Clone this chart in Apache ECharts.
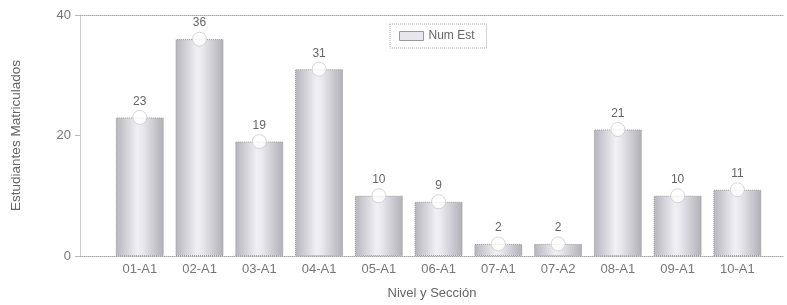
<!DOCTYPE html>
<html>
<head>
<meta charset="utf-8">
<script src="https://cdn.jsdelivr.net/npm/echarts@6/dist/echarts.min.js"></script>
<style>
  html, body { margin: 0; padding: 0; background: #fff; }
  #chart { width: 787px; height: 305px; }
</style>
</head>
<body>
<div id="chart"></div>
<script>
// Estudiantes por sección
var categories = ['01-A1', '02-A1', '03-A1', '04-A1', '05-A1', '06-A1', '07-A1', '07-A2', '08-A1', '09-A1', '10-A1'];
var numEst = [23, 36, 19, 31, 10, 9, 2, 2, 21, 10, 11];
var yTicks = [0, 20, 40];

function show_chart(chart_id){
  var chartDom = document.getElementById(chart_id);
  var myChart = echarts.init(chartDom);
  var option;

  var points = numEst.map(function (v, i) { return [i, v]; });

  var barColor = new echarts.graphic.LinearGradient(0, 0, 1, 0, [
    { offset: 0, color: '#b6b5bd' },
    { offset: 0.45, color: '#f1f0f5' },
    { offset: 0.55, color: '#eae9ef' },
    { offset: 1, color: '#b1b0b7' }
  ]);

  option = {
    animation: false,
    textStyle: { fontFamily: 'Liberation Sans, Arial, sans-serif' },
    legend: {
      data: [{
        name: 'Num Est',
        icon: 'rect',
        itemStyle: { color: '#e6e6ec', borderColor: '#999', borderWidth: 1 }
      }],
      left: 390,
      top: 24,
      itemWidth: 24,
      itemHeight: 9,
      itemGap: 6,
      padding: [6, 12, 6, 9],
      borderColor: '#aaa',
      borderWidth: 1,
      borderType: 'dotted',
      textStyle: { color: '#666', fontSize: 12 }
    },
    grid: {
      left: 80,
      right: 0,
      top: 15,
      bottom: 49
    },
    xAxis: [
      {
        type: 'value',
        min: -1,
        max: 10.78,
        interval: 1,
        name: 'Nivel y Sección',
        nameLocation: 'middle',
        nameGap: 31,
        nameTextStyle: { color: '#666', fontSize: 13 },
        axisLine: { onZero: false, lineStyle: { color: '#aaa', type: 'dotted' } },
        axisTick: { show: false },
        splitLine: { show: false },
        axisLabel: {
          color: '#777',
          fontSize: 13,
          margin: 7,
          formatter: function (v) { return categories[v] || ''; }
        }
      },
      {
        // borde superior del área
        type: 'value',
        position: 'top',
        min: -1,
        max: 10.78,
        axisLine: { onZero: false, lineStyle: { color: '#aaa', type: 'dotted' } },
        axisTick: { show: false },
        axisLabel: { show: false },
        splitLine: { show: false }
      }
    ],
    yAxis: {
      type: 'value',
      min: yTicks[0],
      max: yTicks[yTicks.length - 1],
      interval: 20,
      name: 'Estudiantes Matriculados',
      nameLocation: 'middle',
      nameGap: 57,
      nameTextStyle: { color: '#666', fontSize: 13.5 },
      axisLine: { show: true, onZero: false, lineStyle: { color: '#ccc' } },
      axisTick: { show: true, length: 5, lineStyle: { color: '#bbb' } },
      axisLabel: { color: '#777', fontSize: 13, margin: 9 },
      splitLine: { show: false }
    },
    series: [
      {
        name: 'Num Est',
        type: 'bar',
        barWidth: 48,
        data: points,
        itemStyle: {
          color: barColor,
          borderColor: '#999',
          borderWidth: 1,
          borderType: 'dotted'
        },
        label: {
          show: true,
          position: 'top',
          distance: 10,
          color: '#666',
          fontSize: 12,
          formatter: function (p) { return p.value[1]; }
        }
      },
      {
        name: 'marker',
        type: 'scatter',
        data: points,
        symbol: 'circle',
        symbolSize: 14,
        itemStyle: { color: '#fff', borderColor: '#ccc', borderWidth: 1 },
        z: 5,
        silent: true
      }
    ]
  };

  option && myChart.setOption(option);
  window.addEventListener('resize', function () { myChart.resize(); });
}

show_chart('chart');
</script>
</body>
</html>
